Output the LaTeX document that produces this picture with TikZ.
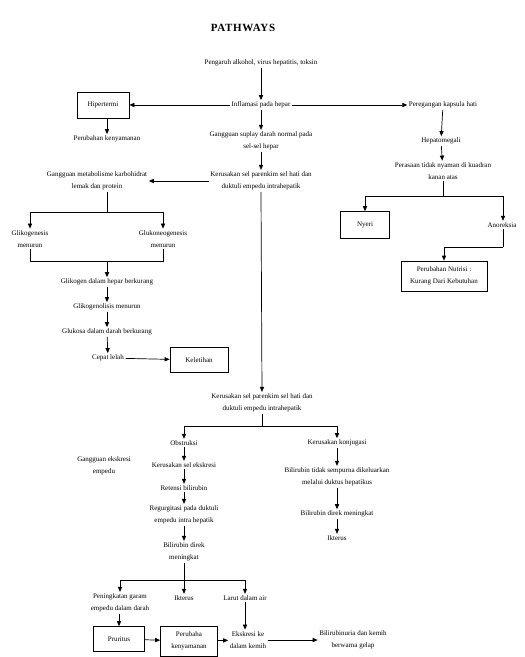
\documentclass[tikz,border=0pt]{standalone}
\usepackage{fontspec}
\setmainfont{Liberation Serif}
\usetikzlibrary{arrows.meta}
\begin{document}
\begin{tikzpicture}[x=1pt,y=1pt,
  txt/.style={font=\fontsize{7}{12.5}\selectfont, align=center, inner sep=1.5pt},
  boxn/.style={txt, draw, line width=0.7pt},
  arr/.style={line width=0.7pt, -{Triangle[length=5pt,width=4.2pt]}},
  ln/.style={line width=0.7pt}]
\useasboundingbox (0,0) rectangle (525,-657);
\fill[white] (0,0) rectangle (525,-657);
% title
\node[font=\fontsize{11}{13}\selectfont\bfseries\addfontfeature{LetterSpace=6}] (title) at (243,-28) {PATHWAYS};
% top
\node[txt] (n1) at (261,-63) {Pengaruh alkohol, virus hepatitis, toksin};
\node[txt] (n2) at (261,-105) {Inflamasi pada hepar};
\node[boxn, minimum width=52, minimum height=26] (hip) at (103,-105) {Hipertermi};
\node[txt] (pk1) at (107,-139) {Perubahan kenyamanan};
\node[txt] (gs) at (261,-141) {Gangguan suplay darah normal pada\\sel-sel hepar};
\node[txt] (kr1) at (261,-181) {Kerusakan sel parenkim sel hati dan\\duktuli empedu intrahepatik};
\node[txt] (gm) at (97,-181) {Gangguan metabolisme karbohidrat\\lemak dan protein};
\node[txt] (glg) at (30,-239) {Glikogenesis\\menurun};
\node[txt] (glk) at (163,-239) {Glukoneogenesis\\menurun};
\node[txt] (gdh) at (107,-282) {Glikogen dalam hepar berkurang};
\node[txt] (gln) at (107,-307) {Glikogenolisis menurun};
\node[txt] (gdd) at (107,-332) {Glukosa dalam darah berkurang};
\node[txt] (cl) at (108,-358) {Cepat lelah};
\node[boxn, minimum width=58, minimum height=25] (kel) at (199,-360) {Keletihan};
% right
\node[txt] (pkh) at (443,-105) {Peregangan kapsula hati};
\node[txt] (hep) at (441,-141) {Hepatomegali};
\node[txt] (ptn) at (443,-171) {Perasaan tidak nyaman di kuadran\\kanan atas};
\node[boxn, minimum width=49, minimum height=27] (nyeri) at (365,-225) {Nyeri};
\node[txt] (ano) at (502,-225) {Anoreksia};
\node[boxn, minimum width=86, minimum height=30] (pn) at (444,-276) {Perubahan Nutrisi :\\Kurang Dari Kebutuhan};
% lower
\node[txt] (kr2) at (262,-403) {Kerusakan sel parenkim sel hati dan\\duktuli empedu intrahepatik};
\node[txt] (obs) at (184,-443) {Obstruksi};
\node[txt] (kk) at (337,-443) {Kerusakan konjugasi};
\node[txt] (gee) at (104,-466) {Gangguan ekskresi\\empedu};
\node[txt] (kse) at (184,-465) {Kerusakan sel ekskresi};
\node[txt] (rb) at (184,-488) {Retensi bilirubin};
\node[txt] (reg) at (184,-515) {Regurgitasi pada duktuli\\empedu intra hepatik};
\node[txt] (bdm) at (184,-552) {Bilirubin direk\\meningkat};
\node[txt] (btk) at (337,-477) {Bilirubin tidak sempurna dikeluarkan\\melalui duktus hepatikus};
\node[txt] (bdm2) at (337,-514) {Bilirubin direk meningkat};
\node[txt] (ikt) at (337,-538) {Ikterus};
\node[txt] (pga) at (120,-603) {Peningkatan garam\\empedu dalam darah};
\node[txt] (ikt2) at (184,-598) {Ikterus};
\node[txt] (lda) at (245,-598) {Larut dalam air};
\node[boxn, minimum width=51, minimum height=25] (pru) at (119,-639) {Pruritus};
\node[boxn, minimum width=57, minimum height=30] (pkb) at (189,-641) {Perubaha\\kenyamanan};
\node[txt] (eks) at (248,-640) {Ekskresi ke\\dalam kemih};
\node[txt] (bil) at (353,-640) {Bilirubinuria dan kemih\\berwarna gelap};
% junction coordinates
\coordinate (j1) at (107,-212);
\coordinate (j2) at (107,-261);
\coordinate (j3) at (443,-196);
\coordinate (j4) at (503,-247);
\coordinate (j5) at (262,-426);
\coordinate (j6) at (184,-580);
% connectors top
\draw[arr] (n1) -- (n2);
\draw[arr] (n2) -- (hip);
\draw[arr] (n2) -- (pkh);
\draw[arr] (hip.south -| pk1.north) -- (pk1.north);
\draw[arr] (n2) -- (gs);
\draw[arr] (gs) -- (kr1);
\draw[arr] (kr1.west) -- (gm.east);
\draw[ln] (gm.south -| j1) -- (j1);
\draw[arr] (j1) -| (glg.north);
\draw[arr] (j1) -| (glk.north);
\draw[ln] (glg.south) |- (j2);
\draw[ln] (glk.south) |- (j2);
\draw[arr] (j2) -- (gdh.north);
\draw[arr] (gdh) -- (gln);
\draw[arr] (gln) -- (gdd);
\draw[arr] (gdd) -- (cl);
\draw[arr] (cl) -- (kel);
% right
\draw[arr] (pkh) -- (hep);
\draw[arr] (hep) -- (ptn);
\draw[ln] (ptn.south) -- (j3);
\draw[arr] (j3) -| (nyeri.north);
\draw[arr] (j3) -| (ano.north -| j4);
\draw[ln] (ano.south -| j4) -- (j4);
\draw[arr] (j4) -| (pn.north);
% lower
\draw[arr] (kr1.south) -- (kr2.north);
\draw[ln] (kr2.south) -- (j5);
\draw[arr] (j5) -| (obs.north);
\draw[arr] (j5) -| (kk.north);
\draw[arr] (obs) -- (kse);
\draw[arr] (kse) -- (rb);
\draw[arr] (rb) -- (reg);
\draw[arr] (reg) -- (bdm);
\draw[arr] (kk) -- (btk);
\draw[arr] (btk) -- (bdm2);
\draw[arr] (bdm2) -- (ikt);
\draw[ln] (bdm.south) -- (j6);
\draw[arr] (j6) -| (pga.north);
\draw[arr] (j6) -- (ikt2.north);
\draw[arr] (j6) -| (lda.north);
\draw[arr] (pga.south -| pru.north) -- (pru.north);
\draw[arr] (pru) -- (pkb);
\draw[arr] (pkb) -- (eks);
\draw[arr] (lda.south) -- (lda.south |- eks.north);
\draw[arr] (eks.east) -- (bil.west);
\end{tikzpicture}
\end{document}
